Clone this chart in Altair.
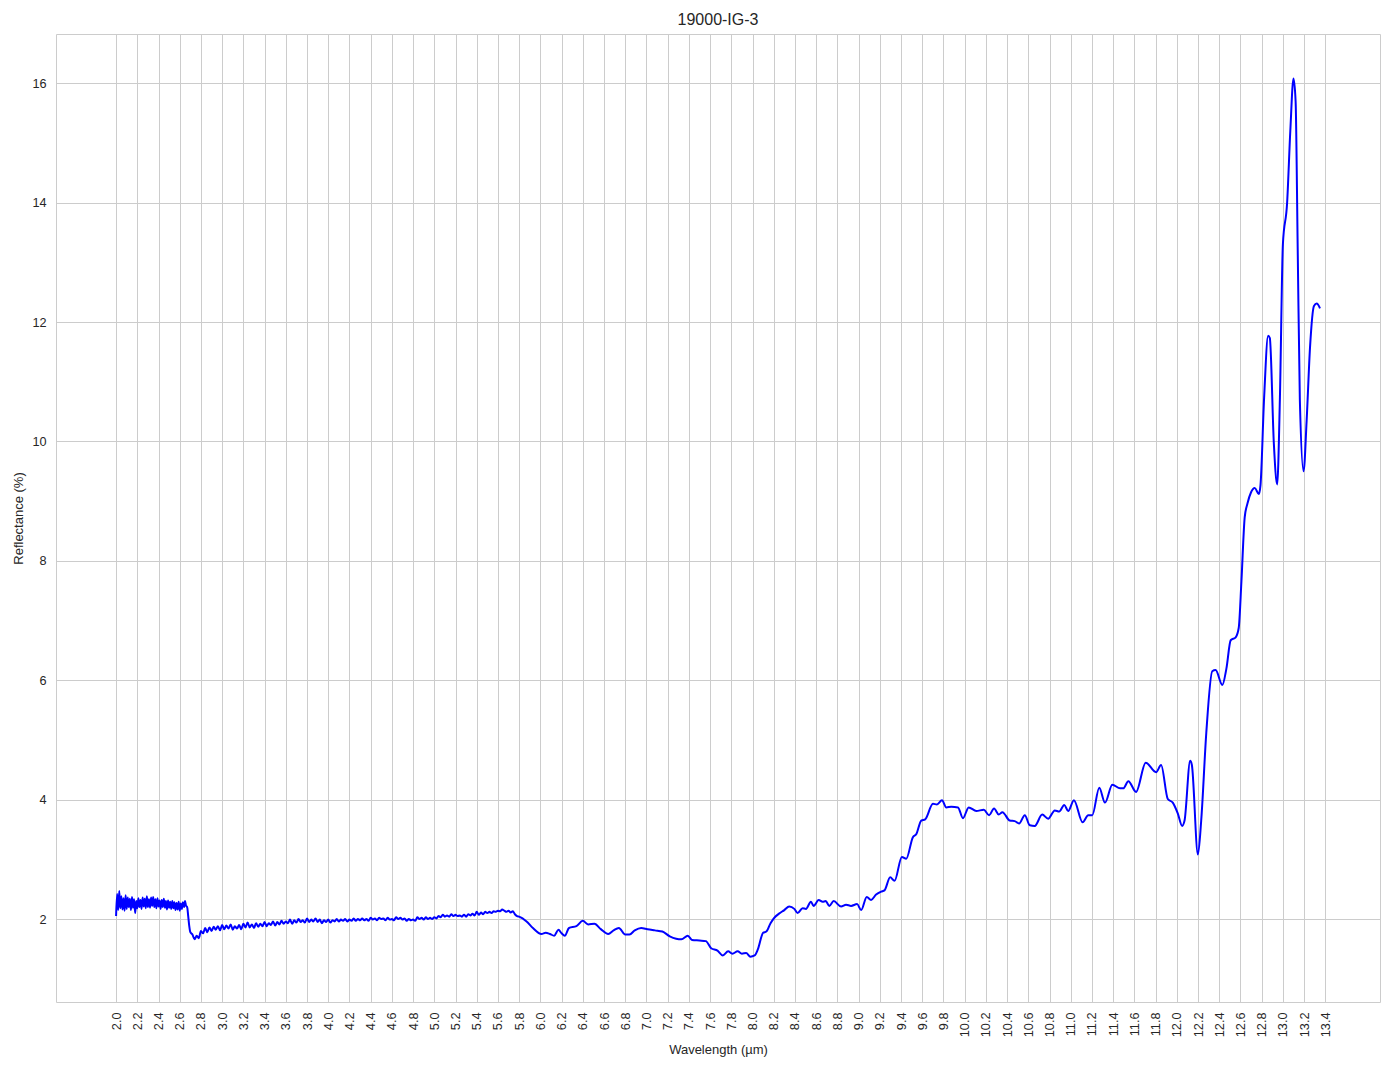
import altair as alt
import pandas as pd

# ---- data ----
# noisy start of the spectrum, sampled every 0.01 um from 2.00 um
noisy1_start = 2.00
noisy1_step = 0.01
noisy1_refl = [
    2.05, 2.42, 2.15, 2.47, 2.18, 2.38, 2.16, 2.35, 2.14, 2.40,
    2.17, 2.36, 2.20, 2.34, 2.15, 2.37, 2.19, 2.33, 2.10, 2.30,
    2.18, 2.35, 2.20, 2.32, 2.17, 2.36, 2.21, 2.34, 2.18, 2.38,
    2.20, 2.33, 2.19, 2.36, 2.22, 2.37, 2.20, 2.33, 2.18, 2.35,
    2.21, 2.31, 2.17, 2.32, 2.20, 2.34, 2.19, 2.30, 2.16, 2.31,
    2.19, 2.29, 2.17, 2.30, 2.18, 2.28, 2.15, 2.27, 2.16, 2.29,
    2.14, 2.26, 2.17, 2.28, 2.20, 2.30, 2.22, 2.20, 2.05, 1.88,
    1.78,
]

# moderately noisy part, sampled every 0.02 um from 2.72 um
noisy2_start = 2.72
noisy2_step = 0.02
noisy2_refl = [
    1.74, 1.66, 1.72, 1.68, 1.80, 1.76, 1.85, 1.78, 1.86, 1.80,
    1.87, 1.82, 1.88, 1.81, 1.90, 1.83, 1.89, 1.84, 1.91, 1.82,
    1.88, 1.84, 1.90, 1.83, 1.92, 1.86, 1.94, 1.86, 1.91, 1.85,
    1.93, 1.87, 1.92, 1.88, 1.95, 1.88, 1.93, 1.90, 1.96, 1.89,
    1.95, 1.91, 1.97, 1.92, 1.96, 1.93, 1.99, 1.92, 1.98, 1.94,
    2.00, 1.95, 1.98, 1.94, 2.01, 1.95, 1.99, 1.96, 2.01, 1.95,
    1.99, 1.93, 1.98, 1.95, 1.99, 1.94, 1.98, 1.96, 2.00, 1.96,
    1.99, 1.97, 2.00, 1.96, 1.99, 1.97, 2.01, 1.97, 2.00, 1.98,
    2.01, 1.98, 2.00, 1.97, 2.02, 1.99, 2.01, 1.98, 2.02, 2.00,
    2.01, 1.98, 2.02, 1.99, 2.00, 1.98, 2.03, 2.00, 2.02, 1.99,
    2.01, 1.97, 2.00, 1.98, 1.99, 1.97, 2.03, 2.00, 2.02, 1.99,
    2.03, 2.00, 2.02, 2.00, 2.03, 2.01, 2.05, 2.03, 2.07, 2.04,
    2.06, 2.04, 2.08, 2.05, 2.07, 2.05, 2.06, 2.04, 2.07, 2.04,
    2.08, 2.06, 2.09, 2.06, 2.12, 2.07, 2.11, 2.08, 2.12, 2.10,
    2.12, 2.10, 2.13, 2.12, 2.14, 2.13, 2.16, 2.14, 2.12, 2.14,
    2.11, 2.13, 2.08, 2.05, 2.04,
]

# smoother remainder of the spectrum
smooth_wl = [
    5.87, 5.93, 6.01, 6.05, 6.09, 6.13, 6.17, 6.20, 6.23, 6.27,
    6.34, 6.40, 6.45, 6.51, 6.57, 6.64, 6.69, 6.74, 6.80, 6.84,
    6.89, 6.95, 7.01, 7.08, 7.15, 7.22, 7.28, 7.33, 7.39, 7.43,
    7.50, 7.56, 7.61, 7.67, 7.72, 7.77, 7.81, 7.86, 7.90, 7.94,
    7.98, 8.02, 8.05, 8.10, 8.13, 8.17, 8.21, 8.25, 8.30, 8.346,
    8.394, 8.425, 8.472, 8.504, 8.551, 8.576, 8.624, 8.661, 8.69, 8.724,
    8.765, 8.835, 8.882, 8.929, 8.986, 9.024, 9.077, 9.118, 9.165, 9.213,
    9.244, 9.298, 9.339, 9.408, 9.449, 9.512, 9.543, 9.591, 9.628, 9.701,
    9.739, 9.786, 9.827, 9.874, 9.937, 9.984, 10.038, 10.110, 10.180, 10.230,
    10.277, 10.321, 10.356, 10.425, 10.472, 10.513, 10.567, 10.614, 10.661, 10.731,
    10.787, 10.850, 10.891, 10.939, 10.976, 11.030, 11.112, 11.165, 11.203, 11.269,
    11.323, 11.392, 11.465, 11.496, 11.543, 11.616, 11.707, 11.805, 11.852, 11.915,
    11.962, 12.009, 12.050, 12.073, 12.126, 12.142, 12.199, 12.230, 12.278, 12.334,
    12.366, 12.429, 12.467, 12.508, 12.555, 12.584, 12.609, 12.640, 12.666, 12.700,
    12.735, 12.773, 12.789, 12.823, 12.861, 12.877, 12.915, 12.946, 12.972, 13.00,
    13.04, 13.07, 13.10, 13.12, 13.14, 13.16, 13.195, 13.224, 13.256, 13.293,
    13.319, 13.35,
]
smooth_refl = [
    1.96, 1.85, 1.75, 1.77, 1.75, 1.72, 1.82, 1.76, 1.72, 1.85,
    1.88, 1.97, 1.91, 1.92, 1.83, 1.75, 1.81, 1.85, 1.74, 1.74,
    1.81, 1.85, 1.83, 1.81, 1.79, 1.71, 1.67, 1.66, 1.72, 1.65,
    1.64, 1.63, 1.51, 1.47, 1.39, 1.46, 1.42, 1.46, 1.42, 1.43,
    1.37, 1.39, 1.49, 1.77, 1.79, 1.93, 2.03, 2.09, 2.15, 2.21,
    2.17, 2.10, 2.18, 2.17, 2.29, 2.22, 2.32, 2.29, 2.30, 2.22,
    2.30, 2.21, 2.24, 2.22, 2.25, 2.15, 2.37, 2.32, 2.41, 2.46,
    2.48, 2.70, 2.64, 3.04, 3.01, 3.37, 3.42, 3.65, 3.67, 3.93,
    3.92, 3.99, 3.87, 3.88, 3.87, 3.69, 3.87, 3.81, 3.83, 3.74,
    3.85, 3.75, 3.79, 3.65, 3.64, 3.60, 3.74, 3.57, 3.56, 3.75,
    3.68, 3.82, 3.80, 3.91, 3.81, 3.99, 3.62, 3.74, 3.74, 4.20,
    3.95, 4.25, 4.19, 4.19, 4.31, 4.13, 4.62, 4.46, 4.58, 4.01,
    3.95, 3.77, 3.56, 3.65, 4.65, 4.58, 3.08, 3.65, 5.12, 6.15,
    6.17, 5.92, 6.19, 6.67, 6.72, 6.88, 7.65, 8.73, 8.96, 9.15,
    9.22, 9.12, 9.27, 10.73, 11.77, 11.73, 9.96, 9.28, 10.73, 13.30,
    14.00, 15.20, 16.08, 15.70, 13.20, 10.70, 9.50, 10.35, 11.58, 12.27,
    12.31, 12.23,
]

x_ticks = [round(2.0 + 0.2 * i, 1) for i in range(58)]  # 2.0 ... 13.4
y_ticks = [2, 4, 6, 8, 10, 12, 14, 16]

# ---- assemble table ----
wl = [round(noisy1_start + noisy1_step * i, 3) for i in range(len(noisy1_refl))]
wl += [round(noisy2_start + noisy2_step * i, 3) for i in range(len(noisy2_refl))]
wl += smooth_wl
refl = noisy1_refl + noisy2_refl + smooth_refl
df = pd.DataFrame({"wl": wl, "refl": refl})

FONT = "Liberation Sans"
TXT = "#262626"
GRID = "#cccccc"

chart = (
    alt.Chart(df)
    .mark_line(color="#0000ff", strokeWidth=2, interpolate="monotone", clip=True)
    .encode(
        x=alt.X(
            "wl:Q",
            scale=alt.Scale(domain=[1.4336, 13.9156], nice=False, zero=False),
            axis=alt.Axis(
                title="Wavelength (µm)",
                values=x_ticks,
                format=".1f",
                labelAngle=270,
                labelPadding=10,
                titlePadding=7,
                labelFlush=False,
                labelOverlap=False,
            ),
        ),
        y=alt.Y(
            "refl:Q",
            scale=alt.Scale(domain=[0.61, 16.826], nice=False, zero=False),
            axis=alt.Axis(
                title="Reflectance (%)",
                values=y_ticks,
                format="d",
                labelPadding=10,
                titlePadding=6,
                labelOverlap=False,
            ),
        ),
    )
    .properties(
        width=1324,
        height=968,
        title=alt.TitleParams(
            "19000-IG-3",
            fontSize=16,
            font=FONT,
            fontWeight="normal",
            color=TXT,
            anchor="middle",
            offset=6,
        ),
        autosize=alt.AutoSizeParams(type="none"),
        padding={"left": 48, "top": 26, "right": 6, "bottom": 59},
    )
    .configure_view(stroke=GRID, strokeWidth=1)
    .configure_axis(
        domain=False,
        ticks=False,
        grid=True,
        gridColor=GRID,
        gridWidth=1,
        labelFont=FONT,
        labelFontSize=12.7,
        labelColor=TXT,
        titleFont=FONT,
        titleFontSize=13,
        titleFontWeight="normal",
        titleColor=TXT,
    )
)

chart.save("out.html", embed_options={"renderer": "svg", "actions": False})
